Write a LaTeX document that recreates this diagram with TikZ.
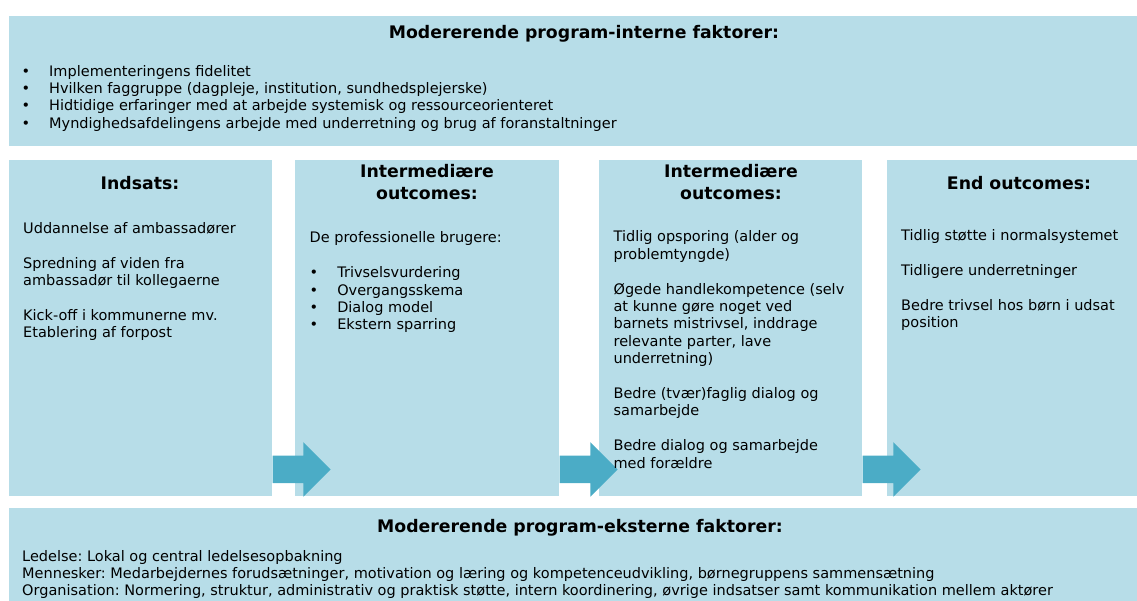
\documentclass[tikz,border=0pt]{standalone}
\usepackage{fontspec}
\setmainfont{DejaVu Sans}
\usepackage{tikz}
\definecolor{panelblue}{HTML}{B7DDE8}
\definecolor{arrowblue}{HTML}{4BACC6}
\usetikzlibrary{shapes.arrows}
\frenchspacing
\newcommand{\bulitem}{\makebox[27.6pt][l]{•}}
\tikzset{panel/.style={
    fill=panelblue,
    inner sep=0pt,
    anchor=north west},
  heading/.style={
    font=\fontsize{17.3}{21.7}\selectfont\bfseries,
    align=center,
    inner sep=0pt,
    anchor=north},
  bodytext/.style={
    font=\fontsize{14.5}{17.4}\selectfont,
    align=left,
    inner sep=0pt,
    anchor=north west},
  flow/.style={
    single arrow,
    fill=arrowblue,
    inner xsep=0pt,
    inner ysep=13.5pt,
    minimum height=58pt,
    single arrow head extend=13.5pt,
    anchor=tail}}

\begin{document}
\begin{tikzpicture}[x=1pt, y=-1pt]
  \useasboundingbox (0,0) rectangle (1137,601);
\coordinate (TOP) at (8.5,15.5);
\coordinate (C1) at (8.5,160);
\coordinate (C2) at (295,160);
\coordinate (C3) at (599,160);
\coordinate (C4) at (887,160);
\coordinate (BOT) at (8.5,508);

\node[panel,
  minimum width=1128.5pt,
  minimum height=130pt] (intern) at (TOP) {};

\node[panel,
  minimum width=263.5pt,
  minimum height=336pt] (indsats) at (C1) {};

\node[panel,
  minimum width=264pt,
  minimum height=336pt] (inter1) at (C2) {};

\node[panel,
  minimum width=263pt,
  minimum height=336pt] (inter2) at (C3) {};

\node[panel,
  minimum width=250pt,
  minimum height=336pt] (endout) at (C4) {};

\node[panel,
  minimum width=1128.5pt,
  minimum height=93pt] (ekstern) at (BOT) {};

\node[flow] (a1) at ([yshift=27pt]indsats.south east) {};
\node[flow] (a2) at ([yshift=27pt]inter1.south east) {};
\node[flow] (a3) at ([yshift=27pt]inter2.south east) {};

\node[heading] (hintern) at (584,23.1) {\strut Modererende program-interne faktorer:};
\node[heading] (hindsats) at (140,173.8) {\strut Indsats:};
\node[heading] (hinter1) at (427,162.6) {\strut Intermediære\\outcomes:};
\node[heading] (hinter2) at (731,162.6) {\strut Intermediære\\outcomes:};
\node[heading] (hendout) at (1019,173.8) {\strut End outcomes:};
\node[heading] (hekstern) at (580,516.8) {\strut Modererende program-eksterne faktorer:};

\node[bodytext] (tintern) at (21.4,63.8) {\strut\bulitem Implementeringens fidelitet\\
  \bulitem Hvilken faggruppe (dagpleje, institution, sundhedsplejerske)\\
  \bulitem Hidtidige erfaringer med at arbejde systemisk og ressourceorienteret\\
  \bulitem Myndighedsafdelingens arbejde med underretning og brug af foranstaltninger};

\node[bodytext] (tindsats) at (23,221.1) {\strut Uddannelse af ambassadører\\[17.4pt]
  Spredning af viden fra\\ambassadør til kollegaerne\\[17.4pt]
  Kick-off i kommunerne mv.\\Etablering af forpost};

\node[bodytext] (tinter1) at (309.5,230.5) {\strut De professionelle brugere:\\[17.4pt]
  \bulitem Trivselsvurdering\\
  \bulitem Overgangsskema\\
  \bulitem Dialog model\\
  \bulitem Ekstern sparring};

\node[bodytext] (tinter2) at (613.4,229.5) {\strut Tidlig opsporing (alder og\\problemtyngde)\\[17.4pt]
  Øgede handlekompetence (selv\\at kunne gøre noget ved\\barnets mistrivsel, inddrage\\relevante parter, lave\\underretning)\\[17.4pt]
  Bedre (tvær)faglig dialog og\\samarbejde\\[17.4pt]
  Bedre dialog og samarbejde\\med forældre};

\node[bodytext] (tendout) at (901,228.5) {\strut Tidlig støtte i normalsystemet\\[17.4pt]
  Tidligere underretninger\\[17.4pt]
  Bedre trivsel hos børn i udsat\\position};

\node[bodytext] (tekstern) at (22,548.8) {\strut Ledelse: Lokal og central ledelsesopbakning\\
  Mennesker: Medarbejdernes forudsætninger, motivation og læring og kompetenceudvikling, børnegruppens sammensætning\\
  Organisation: Normering, struktur, administrativ og praktisk støtte, intern koordinering, øvrige indsatser samt kommunikation mellem aktører};

\end{tikzpicture}
\end{document}
